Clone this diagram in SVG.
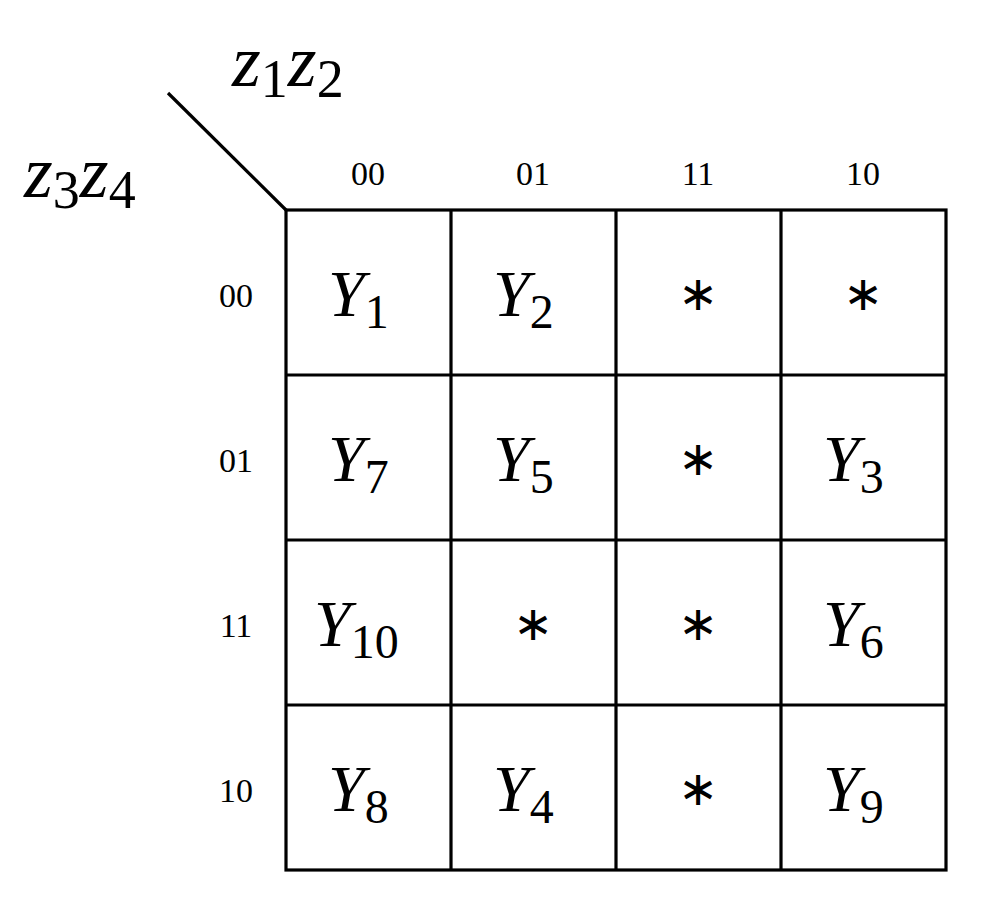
<svg xmlns="http://www.w3.org/2000/svg" width="993" height="911" viewBox="0 0 993 911">
<style>
.g{stroke:#000;stroke-width:3.2;fill:none}
.h{font-family:"Liberation Serif",serif;font-size:34px;text-anchor:middle}
.y{font-family:"Liberation Serif",serif;font-style:italic;font-size:66px}
.s{font-style:normal;font-size:48px}
.a{font-family:"DejaVu Sans",sans-serif;font-size:48px;text-anchor:middle}
.z{font-family:"Liberation Serif",serif;font-style:italic;font-size:74px}
.zs{font-style:normal;font-size:54px}
</style>
<rect width="993" height="911" fill="#fff"/>
<g id="connectors">
<line class="g" x1="168" y1="93" x2="287" y2="211"/>
<rect class="g" x="286" y="210" width="660" height="660"/>
<path class="g" d="M451 210V870M616 210V870M781 210V870M286 375H946M286 540H946M286 705H946"/>
</g>
<g id="axis-z1z2"><text class="z" x="232" y="86">z<tspan class="zs" dy="11">1</tspan><tspan dy="-11">z</tspan><tspan class="zs" dy="11">2</tspan></text></g>
<g id="axis-z3z4"><text class="z" x="24" y="197">z<tspan class="zs" dy="11">3</tspan><tspan dy="-11">z</tspan><tspan class="zs" dy="11">4</tspan></text></g>
<g id="col-headers">
<text class="h" x="368" y="185">00</text><text class="h" x="533" y="185">01</text><text class="h" x="698" y="185">11</text><text class="h" x="863" y="185">10</text>
</g>
<g id="row-headers">
<text class="h" x="236" y="307">00</text><text class="h" x="236" y="472">01</text><text class="h" x="236" y="637">11</text><text class="h" x="236" y="802">10</text>
</g>
<g id="cells">
<text class="y" x="328" y="316">Y<tspan class="s" dy="12">1</tspan></text>
<text class="y" x="493" y="316">Y<tspan class="s" dy="12">2</tspan></text>
<text class="a" x="698" y="310">∗</text>
<text class="a" x="863" y="310">∗</text>
<text class="y" x="328" y="481">Y<tspan class="s" dy="12">7</tspan></text>
<text class="y" x="493" y="481">Y<tspan class="s" dy="12">5</tspan></text>
<text class="a" x="698" y="475">∗</text>
<text class="y" x="823" y="481">Y<tspan class="s" dy="12">3</tspan></text>
<text class="y" x="314" y="646">Y<tspan class="s" dy="12">10</tspan></text>
<text class="a" x="533" y="640">∗</text>
<text class="a" x="698" y="640">∗</text>
<text class="y" x="823" y="646">Y<tspan class="s" dy="12">6</tspan></text>
<text class="y" x="328" y="811">Y<tspan class="s" dy="12">8</tspan></text>
<text class="y" x="493" y="811">Y<tspan class="s" dy="12">4</tspan></text>
<text class="a" x="698" y="805">∗</text>
<text class="y" x="823" y="811">Y<tspan class="s" dy="12">9</tspan></text>
</g>
</svg>
